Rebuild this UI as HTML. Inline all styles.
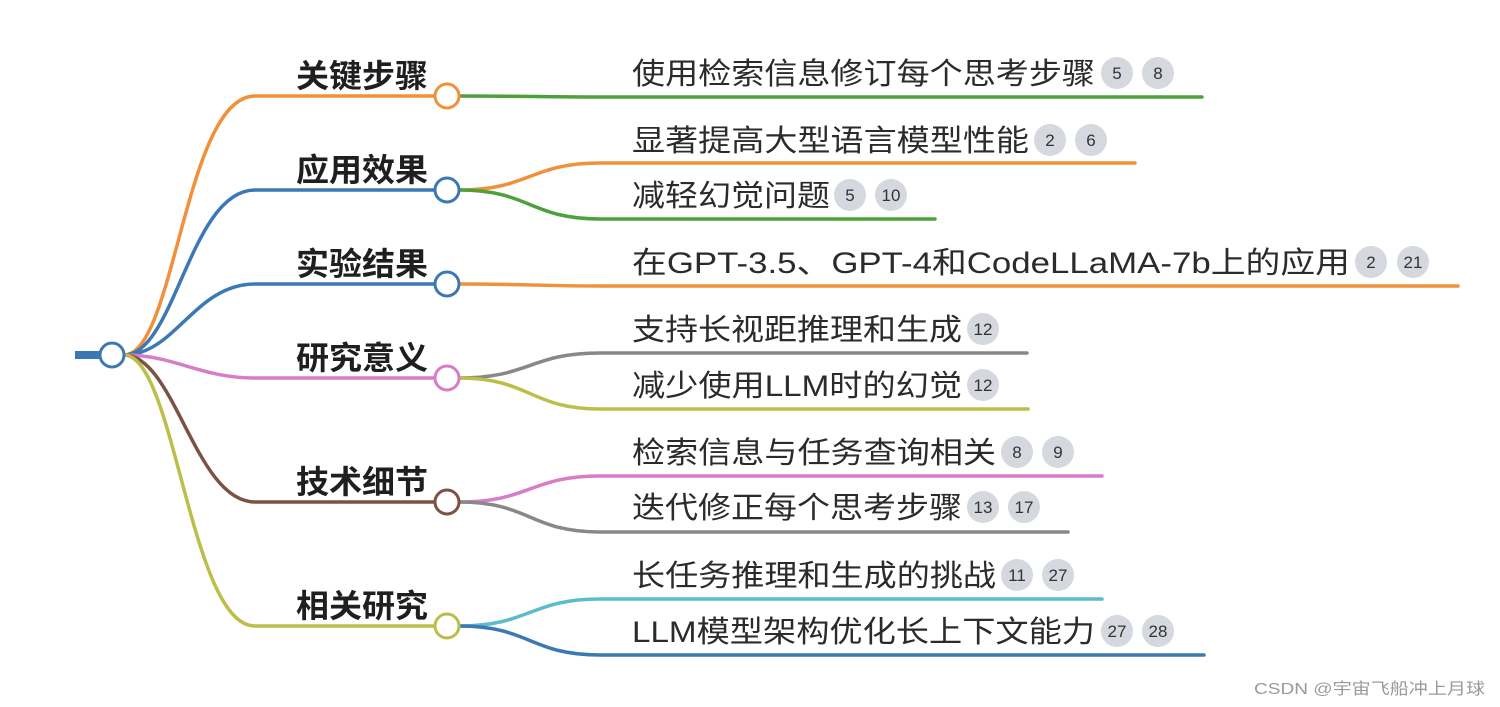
<!DOCTYPE html>
<html><head><meta charset="utf-8">
<style>
html,body{margin:0;padding:0;background:#fff;width:1500px;height:707px;overflow:hidden}
svg{display:block}
.l1{font-family:"Liberation Sans","Noto Sans CJK SC",sans-serif;font-weight:bold;font-size:32px;fill:#1f1f1f}
.l2{font-family:"Liberation Sans","Noto Sans CJK SC",sans-serif;font-size:30px;fill:#2b2b2b}
.bt{font-family:"Liberation Sans",sans-serif;font-size:17px;fill:#333;text-anchor:middle}
.wm{font-family:"Liberation Sans","Noto Sans CJK SC",sans-serif;font-size:16px;fill:#9a9a9a}
</style></head><body>
<svg width="1500" height="707" viewBox="0 0 1500 707" xmlns="http://www.w3.org/2000/svg">
<rect width="1500" height="707" fill="#fff"/>
<g fill="none" stroke-width="3.5" stroke-linecap="round">
<!-- level1 curves -->
<path d="M124,355 C175,355 185,96 255,96 L435,96" stroke="#F0913A"/>
<path d="M124,355 C175,355 190,190 255,190 L435,190" stroke="#3C78B4"/>
<path d="M124,355 C175,355 195,284 255,284 L435,284" stroke="#3C78B4"/>
<path d="M124,355 C175,355 200,378 255,378 L435,378" stroke="#D77DC8"/>
<path d="M124,355 C175,355 195,502 255,502 L435,502" stroke="#7B5243"/>
<path d="M124,355 C175,355 190,626 255,626 L435,626" stroke="#BDBE4A"/>
<!-- level2 -->
<path d="M459,96 C530,96 540,97 600,97 L1202,97" stroke="#4EA03C"/>
<path d="M459,190 C530,190 530,163 600,163 L1135,163" stroke="#F0913A"/>
<path d="M459,190 C530,190 530,219 600,219 L935,219" stroke="#4EA03C"/>
<path d="M459,284 C530,284 540,286 600,286 L1458,286" stroke="#F0913A"/>
<path d="M459,378 C530,378 530,353 600,353 L1027,353" stroke="#888"/>
<path d="M459,378 C530,378 530,409 600,409 L1028,409" stroke="#BDBE4A"/>
<path d="M459,502 C530,502 530,476 600,476 L1102,476" stroke="#D77DC8"/>
<path d="M459,502 C530,502 530,532 600,532 L1068,532" stroke="#888"/>
<path d="M459,626 C530,626 530,599 600,599 L1102,599" stroke="#5BBCCB"/>
<path d="M459,626 C530,626 530,655 600,655 L1204,655" stroke="#3C78B4"/>
</g>
<rect x="75" y="351" width="28" height="8" fill="#3C78B4"/>
<g fill="#fff" stroke-width="3">
<circle cx="112" cy="355" r="12" stroke="#3C78B4"/>
<circle cx="447" cy="96" r="12" stroke="#F0913A"/>
<circle cx="447" cy="190" r="12" stroke="#3C78B4"/>
<circle cx="447" cy="284" r="12" stroke="#3C78B4"/>
<circle cx="447" cy="378" r="12" stroke="#D77DC8"/>
<circle cx="447" cy="502" r="12" stroke="#7B5243"/>
<circle cx="447" cy="626" r="12" stroke="#BDBE4A"/>
</g>
<g class="l1">
<text x="296" y="87" textLength="132" lengthAdjust="spacingAndGlyphs">关键步骤</text>
<text x="296" y="181" textLength="132" lengthAdjust="spacingAndGlyphs">应用效果</text>
<text x="296" y="275" textLength="132" lengthAdjust="spacingAndGlyphs">实验结果</text>
<text x="296" y="369" textLength="132" lengthAdjust="spacingAndGlyphs">研究意义</text>
<text x="296" y="493" textLength="132" lengthAdjust="spacingAndGlyphs">技术细节</text>
<text x="296" y="617" textLength="132" lengthAdjust="spacingAndGlyphs">相关研究</text>
</g>
<g class="l2">
<text x="632" y="84" textLength="463" lengthAdjust="spacingAndGlyphs">使用检索信息修订每个思考步骤</text>
<text x="632" y="151" textLength="397" lengthAdjust="spacingAndGlyphs">显著提高大型语言模型性能</text>
<text x="632" y="206" textLength="198" lengthAdjust="spacingAndGlyphs">减轻幻觉问题</text>
<text x="632" y="273" textLength="718" lengthAdjust="spacingAndGlyphs">在GPT-3.5、GPT-4和CodeLLaMA-7b上的应用</text>
<text x="632" y="340" textLength="330" lengthAdjust="spacingAndGlyphs">支持长视距推理和生成</text>
<text x="632" y="396" textLength="330" lengthAdjust="spacingAndGlyphs">减少使用LLM时的幻觉</text>
<text x="632" y="463" textLength="364" lengthAdjust="spacingAndGlyphs">检索信息与任务查询相关</text>
<text x="632" y="518" textLength="330" lengthAdjust="spacingAndGlyphs">迭代修正每个思考步骤</text>
<text x="632" y="586" textLength="364" lengthAdjust="spacingAndGlyphs">长任务推理和生成的挑战</text>
<text x="632" y="642" textLength="463" lengthAdjust="spacingAndGlyphs">LLM模型架构优化长上下文能力</text>
</g>
<g fill="#D5D8DE">
<circle cx="1117" cy="73" r="16"/><circle cx="1158" cy="73" r="16"/>
<circle cx="1050" cy="140" r="16"/><circle cx="1091" cy="140" r="16"/>
<circle cx="850" cy="195" r="16"/><circle cx="891" cy="195" r="16"/>
<circle cx="1371" cy="262" r="16"/><circle cx="1413" cy="262" r="16"/>
<circle cx="983" cy="329" r="16"/>
<circle cx="983" cy="385" r="16"/>
<circle cx="1017" cy="452" r="16"/><circle cx="1058" cy="452" r="16"/>
<circle cx="983" cy="507" r="16"/><circle cx="1024" cy="507" r="16"/>
<circle cx="1017" cy="575" r="16"/><circle cx="1058" cy="575" r="16"/>
<circle cx="1117" cy="631" r="16"/><circle cx="1158" cy="631" r="16"/>
</g>
<g class="bt">
<text x="1117" y="79">5</text><text x="1158" y="79">8</text>
<text x="1050" y="146">2</text><text x="1091" y="146">6</text>
<text x="850" y="201">5</text><text x="891" y="201">10</text>
<text x="1371" y="268">2</text><text x="1413" y="268">21</text>
<text x="983" y="335">12</text>
<text x="983" y="391">12</text>
<text x="1017" y="458">8</text><text x="1058" y="458">9</text>
<text x="983" y="513">13</text><text x="1024" y="513">17</text>
<text x="1017" y="581">11</text><text x="1058" y="581">27</text>
<text x="1117" y="637">27</text><text x="1158" y="637">28</text>
</g>
<text class="wm" x="1254" y="694" textLength="231" lengthAdjust="spacingAndGlyphs">CSDN @宇宙飞船冲上月球</text>
</svg>
</body></html>
